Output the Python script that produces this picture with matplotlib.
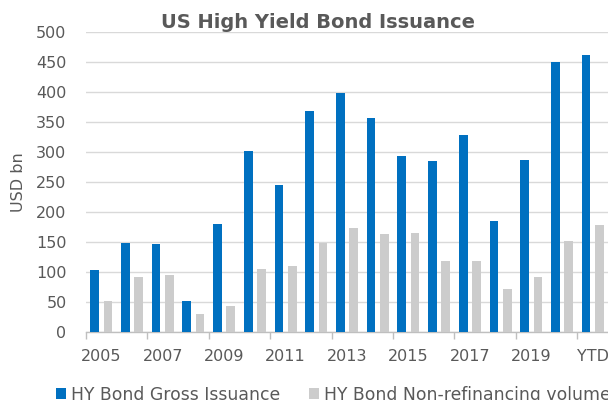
import matplotlib
matplotlib.use("Agg")
import matplotlib.pyplot as plt
from matplotlib.patches import Patch
import numpy as np

categories = ["2005", "2006", "2007", "2008", "2009", "2010", "2011", "2012",
              "2013", "2014", "2015", "2016", "2017", "2018", "2019", "2020", "YTD"]
gross_issuance = [104, 148, 147, 52, 180, 302, 245, 368, 399, 356, 293, 286, 328, 186, 287, 450, 462]
non_refinancing = [52, 92, 95, 30, 43, 106, 111, 148, 174, 164, 165, 119, 119, 72, 92, 152, 179]
y_ticks = [0, 50, 100, 150, 200, 250, 300, 350, 400, 450, 500]

BLUE = "#0070C0"
GREY = "#CCCCCC"
TEXT = "#595959"

plt.rcParams["font.family"] = ["DejaVu Sans"]

fig = plt.figure(figsize=(6.08, 4.0), dpi=100)
ax = fig.add_axes([86 / 608, (400 - 332.3) / 400, (608 - 86) / 608, 300.3 / 400])

x = np.arange(len(categories))
bw = 0.283
off = 0.217
ax.bar(x - off, gross_issuance, width=bw, color=BLUE, zorder=3)
ax.bar(x + off, non_refinancing, width=bw, color=GREY, zorder=3)

ax.set_xlim(-0.5, len(categories) - 0.5)
ax.set_ylim(0, 500)
ax.set_yticks(y_ticks)
ax.yaxis.grid(True, color="#D9D9D9", linewidth=1.0, zorder=0)
ax.set_axisbelow(True)

ax.set_xticks(x[::2])
ax.set_xticklabels(categories[::2])
ax.set_xticks(np.arange(-0.5, len(categories) - 0.5, 2), minor=True)
ax.tick_params(axis="x", which="major", length=0, pad=12, labelsize=11.5, labelcolor=TEXT)
ax.tick_params(axis="x", which="minor", length=5, color="#BFBFBF", width=1)
ax.tick_params(axis="y", length=0, pad=14, labelsize=11.5, labelcolor=TEXT)

for s in ["top", "right", "left"]:
    ax.spines[s].set_visible(False)
ax.spines["bottom"].set_color("#BFBFBF")
ax.spines["bottom"].set_linewidth(1)

ax.set_ylabel("USD bn", fontsize=11.5, color=TEXT, labelpad=7)

fig.text(318 / 608, 1 - 22 / 400, "US High Yield Bond Issuance", ha="center", va="center",
         fontsize=14, fontweight="bold", color=TEXT)

handles = [Patch(facecolor=BLUE, edgecolor="none"), Patch(facecolor=GREY, edgecolor="none")]
fig.legend(handles, ["HY Bond Gross Issuance", "HY Bond Non-refinancing volume"],
           loc="center left", bbox_to_anchor=(56 / 608, 1 - 395 / 400), ncol=2,
           frameon=False, fontsize=12.4, labelcolor=TEXT, handlelength=0.6, handleheight=0.6,
           handletextpad=0.25, columnspacing=1.7, borderaxespad=0, borderpad=0)

fig.savefig("out.png", dpi=100)
